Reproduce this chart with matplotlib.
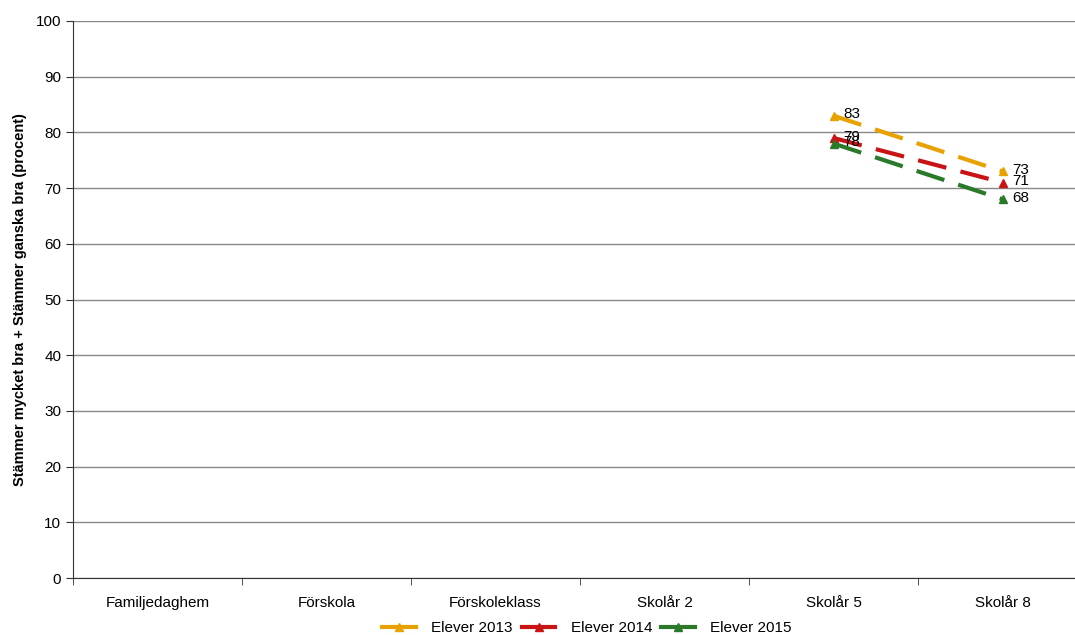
import matplotlib.pyplot as plt
from matplotlib.ticker import FixedLocator
from matplotlib.lines import Line2D

plt.rcParams['font.family'] = ['Liberation Sans', 'DejaVu Sans']

categories = ["Familjedaghem", "Förskola", "Förskoleklass", "Skolår 2", "Skolår 5", "Skolår 8"]
series_names = ["Elever 2013", "Elever 2014", "Elever 2015"]
colors = ["#E8A200", "#C81414", "#2A7A2A"]

# only Skolår 5 and Skolår 8 have values
x_idx = [4, 5]
elever_2013 = [83, 73]
elever_2014 = [79, 71]
elever_2015 = [78, 68]

fig = plt.figure(figsize=(10.75, 6.35), dpi=100)
ax = fig.add_axes([73 / 1075, 57 / 635, 1014 / 1075, 557 / 635])

handles = []
for name, vals, c in zip(series_names, [elever_2013, elever_2014, elever_2015], colors):
    ax.plot(x_idx, vals, color=c, lw=3, dashes=(7, 3.5), marker='^', markersize=5.5,
            clip_on=False)
    handles.append(Line2D([], [], color=c, lw=3, marker='^', markersize=5.5))
    for x, v in zip(x_idx, vals):
        ax.annotate(str(v), (x, v), xytext=(7, 1), textcoords='offset points',
                    fontsize=11, va='center', ha='left')

ax.set_xlim(-0.5, 5.5)
ax.set_ylim(0, 100)
ax.set_yticks(range(0, 101, 10))
ax.set_xticks(range(len(categories)))
ax.set_xticklabels(categories, fontsize=11)
ax.xaxis.set_minor_locator(FixedLocator([i + 0.5 for i in range(-1, 6)]))
ax.tick_params(axis='x', which='major', length=0, pad=13)
ax.tick_params(axis='x', which='minor', length=5, direction='out', color='#333333')
ax.tick_params(axis='y', length=5, direction='out', labelsize=11, color='#333333')
ax.grid(axis='y', color='#888888', lw=1)
ax.set_axisbelow(True)
for s in ['top', 'right']:
    ax.spines[s].set_visible(False)
ax.spines['left'].set_color('#333333')
ax.spines['bottom'].set_color('#333333')

ax.set_ylabel("Stämmer mycket bra + Stämmer ganska bra (procent)", fontsize=10.5,
              fontweight='bold', labelpad=6)

fig.legend(handles, series_names, loc='center', bbox_to_anchor=(587 / 1075, 1 - 628 / 635), ncol=3,
           frameon=False, fontsize=11, handlelength=2.2, handletextpad=1.0,
           columnspacing=0.6, borderaxespad=0, borderpad=0)

fig.savefig("out.png", dpi=100)
